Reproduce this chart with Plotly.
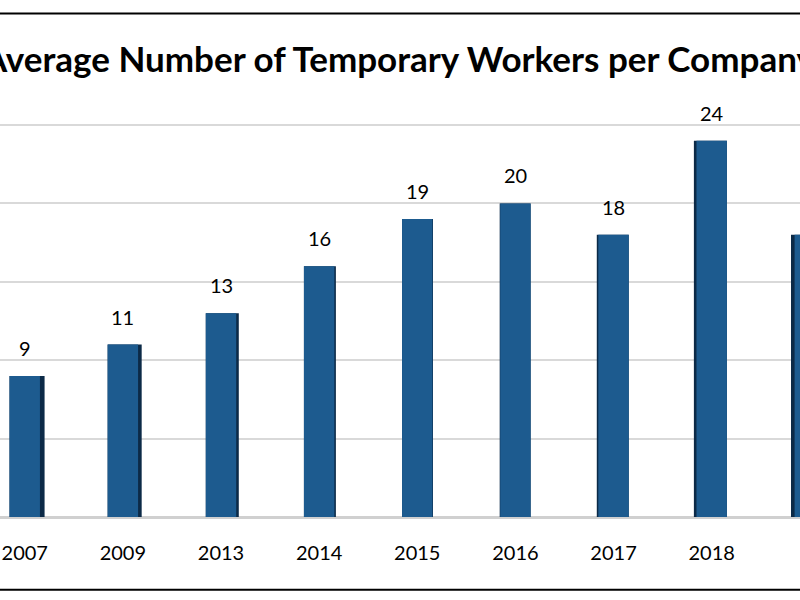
import plotly.graph_objects as go

# ---- data ----
years = ["2007", "2009", "2013", "2014", "2015", "2016", "2017", "2018", "2019"]
workers = [9, 11, 13, 16, 19, 20, 18, 24, 18]
grid_vals = [0, 5, 10, 15, 20, 25]

TITLE = "Average Number of Temporary Workers per Company"

# ---- style ----
FRONT = "#1d5b8f"
SIDE = "#0c2a47"
GRID = "#d9d9d9"
FONT = "Lato"
BAR_W = 0.31
SIDE_PER_STEP = 0.0105   # depth of the shaded side face per category step
VANISH = 4.5             # perspective centre (category index)

n = len(years)
side = [(VANISH - i) * SIDE_PER_STEP for i in range(n)]
back_width = [BAR_W + abs(s) for s in side]
back_offset = [-BAR_W / 2 if s >= 0 else -BAR_W / 2 + s for s in side]

fig = go.Figure()
# shaded side face (3D look)
fig.add_trace(go.Bar(
    x=years, y=workers, width=back_width, offset=back_offset,
    marker=dict(color=SIDE, line=dict(width=0)), hoverinfo="skip",
    showlegend=False,
))
# front face
fig.add_trace(go.Bar(
    x=years, y=workers, width=BAR_W, offset=-BAR_W / 2,
    marker=dict(color=FRONT, line=dict(width=0)),
    showlegend=False,
))

# value labels (x given as category serial number)
for i, v in enumerate(workers):
    fig.add_annotation(
        x=i, y=v, text=str(v), showarrow=False, yanchor="bottom", yshift=14,
        font=dict(family=FONT, size=20, color="#000000"),
    )

# title (wider than the picture, so it is placed as a paper annotation)
fig.add_annotation(
    xref="paper", yref="paper", x=-0.025, xanchor="left", y=1.046, yanchor="middle",
    text="<b>" + TITLE + "</b>", showarrow=False,
    font=dict(family=FONT, size=35, color="#000000"),
)

# frame lines at top and bottom of the picture
for py in (1.147, -0.166):
    fig.add_shape(type="line", xref="paper", yref="paper", x0=0, x1=1, y0=py, y1=py,
                  line=dict(color="#000000", width=2))

fig.update_layout(
    width=800, height=600,
    margin=dict(l=0, r=0, t=78, b=83, pad=0),
    paper_bgcolor="white", plot_bgcolor="white",
    barmode="overlay",
    xaxis=dict(type="category", range=[-0.252, 7.9], showgrid=False, zeroline=False,
               showline=False, ticks="", ticklabelstandoff=22, automargin=False,
               tickfont=dict(family=FONT, size=20, color="#000000")),
    yaxis=dict(range=[0, 28], tickvals=grid_vals, showticklabels=False, showgrid=True,
               gridcolor=GRID, gridwidth=2, zeroline=True, zerolinecolor="#d0d0d0",
               zerolinewidth=3, automargin=False),
)

fig.write_html("out.html", config={"displayModeBar": False},
               post_script="document.body.style.margin='0';")
